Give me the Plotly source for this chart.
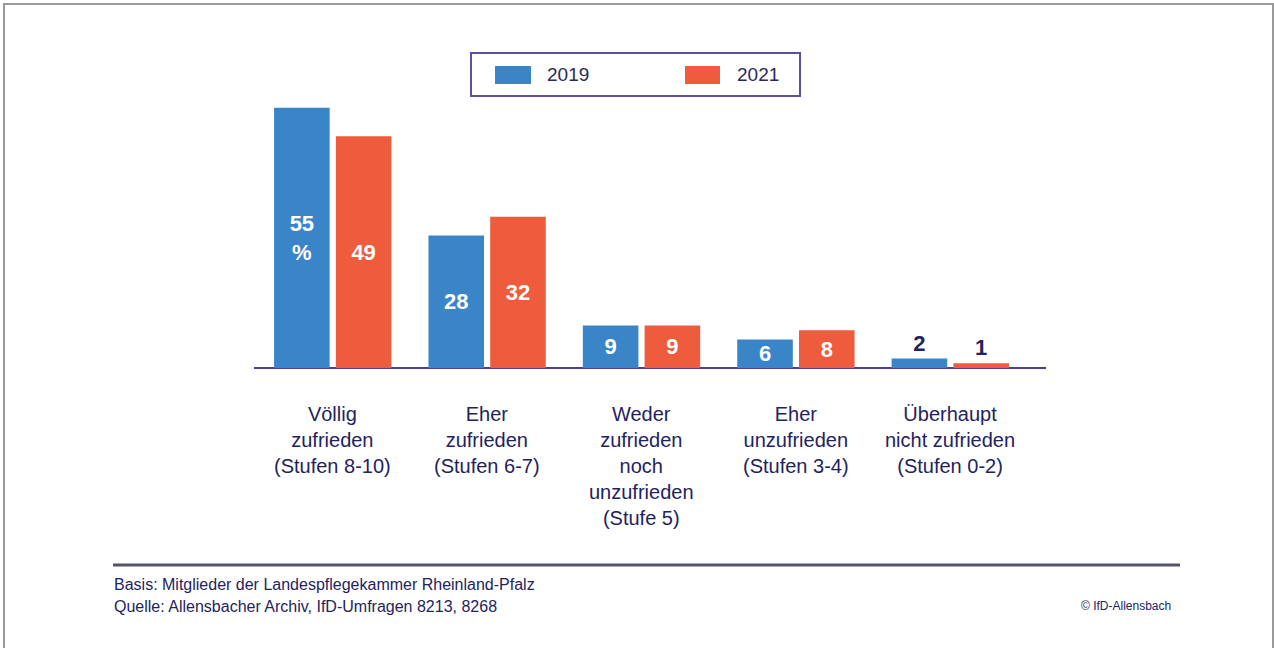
import plotly.graph_objects as go

W, H = 1274, 648

kategorien = [
    "Völlig<br>zufrieden<br>(Stufen 8-10)",
    "Eher<br>zufrieden<br>(Stufen 6-7)",
    "Weder<br>zufrieden<br>noch<br>unzufrieden<br>(Stufe 5)",
    "Eher<br>unzufrieden<br>(Stufen 3-4)",
    "Überhaupt<br>nicht zufrieden<br>(Stufen 0-2)",
]
werte_2019 = [55, 28, 9, 6, 2]
werte_2021 = [49, 32, 9, 8, 1]
text_2019 = ["55<br>%", "28", "9", "6", "2"]
text_2021 = ["49", "32", "9", "8", "1"]
textpos = ["inside", "inside", "inside", "inside", "outside"]

BLAU = "#3a85c8"
ROT = "#ee5b3d"
NAVY = "#1f2360"
FONT = "Liberation Sans"


def px_x(p):
    return p / W


def px_y(p):
    return 1 - p / H


x_idx = list(range(len(kategorien)))

fig = go.Figure()
for name, werte, texte, farbe in [("2019", werte_2019, text_2019, BLAU),
                                  ("2021", werte_2021, text_2021, ROT)]:
    fig.add_trace(go.Bar(
        x=x_idx, y=werte, name=name, marker_color=farbe, marker_line_width=0,
        text=texte, textposition=textpos, insidetextanchor="middle",
        textangle=0, constraintext="none", cliponaxis=False,
        insidetextfont=dict(family=FONT, size=22, color="white", weight="bold"),
        outsidetextfont=dict(family=FONT, size=22, color=NAVY, weight="bold"),
        showlegend=False, hoverinfo="skip",
    ))

annots = []
for i, k in enumerate(kategorien):
    annots.append(dict(x=i, y=px_y(401), xref="x", yref="paper", text=k,
                       showarrow=False, yanchor="top", xanchor="center", align="center",
                       font=dict(family=FONT, size=20, color=NAVY)))

# Legende
annots.append(dict(x=px_x(545), y=px_y(75), xref="paper", yref="paper", text="2019",
                   showarrow=False, xanchor="left", yanchor="middle",
                   font=dict(family=FONT, size=19, color="#2a2a55")))
annots.append(dict(x=px_x(735), y=px_y(75), xref="paper", yref="paper", text="2021",
                   showarrow=False, xanchor="left", yanchor="middle",
                   font=dict(family=FONT, size=19, color="#2a2a55")))

# Fusszeile
annots.append(dict(x=px_x(112), y=px_y(584), xref="paper", yref="paper",
                   text="Basis: Mitglieder der Landespflegekammer Rheinland-Pfalz",
                   showarrow=False, xanchor="left", yanchor="middle",
                   font=dict(family=FONT, size=16, color=NAVY)))
annots.append(dict(x=px_x(112), y=px_y(606), xref="paper", yref="paper",
                   text="Quelle: Allensbacher Archiv, IfD-Umfragen 8213, 8268",
                   showarrow=False, xanchor="left", yanchor="middle",
                   font=dict(family=FONT, size=16, color=NAVY)))
annots.append(dict(x=px_x(1173), y=px_y(606), xref="paper", yref="paper",
                   text="© IfD-Allensbach",
                   showarrow=False, xanchor="right", yanchor="middle",
                   font=dict(family=FONT, size=12, color=NAVY)))

shapes = [
    # Rahmen
    dict(type="rect", xref="paper", yref="paper", x0=px_x(4), x1=px_x(1273),
         y0=px_y(4), y1=-0.1, line=dict(color="#9a9a9a", width=2)),
    # Legendenrahmen
    dict(type="rect", xref="paper", yref="paper", x0=px_x(471), x1=px_x(800),
         y0=px_y(53), y1=px_y(96), line=dict(color="#5b4fa8", width=2)),
    dict(type="rect", xref="paper", yref="paper", x0=px_x(495), x1=px_x(531),
         y0=px_y(66), y1=px_y(84), fillcolor=BLAU, line_width=0),
    dict(type="rect", xref="paper", yref="paper", x0=px_x(685), x1=px_x(720),
         y0=px_y(66), y1=px_y(84), fillcolor=ROT, line_width=0),
    # Fusszeilenlinie
    dict(type="line", xref="paper", yref="paper", x0=px_x(113), x1=px_x(1180),
         y0=px_y(565), y1=px_y(565), line=dict(color="#55556a", width=3)),
]

fig.update_layout(
    width=W, height=H,
    margin=dict(l=0, r=0, t=0, b=0),
    paper_bgcolor="white", plot_bgcolor="white",
    barmode="group", bargap=0.2, bargroupgap=0.1,
    uniformtext=dict(minsize=22, mode="show"),
    annotations=annots, shapes=shapes,
    xaxis=dict(domain=[px_x(254), px_x(1046)], range=[-0.51, 4.62],
               showticklabels=False, showgrid=False, zeroline=False,
               showline=False, fixedrange=True),
    yaxis=dict(domain=[px_y(368), px_y(90)], range=[0, 278 / 4.73],
               showticklabels=False, showgrid=False, zeroline=True,
               zerolinecolor="#4a3f98", zerolinewidth=2, fixedrange=True),
)

# ohne Body-Rand, damit die Figur genau das Fenster fuellt
fig.write_html("out.html", config={"displayModeBar": False},
               post_script="document.body.style.margin='0';document.body.style.overflow='hidden';")
